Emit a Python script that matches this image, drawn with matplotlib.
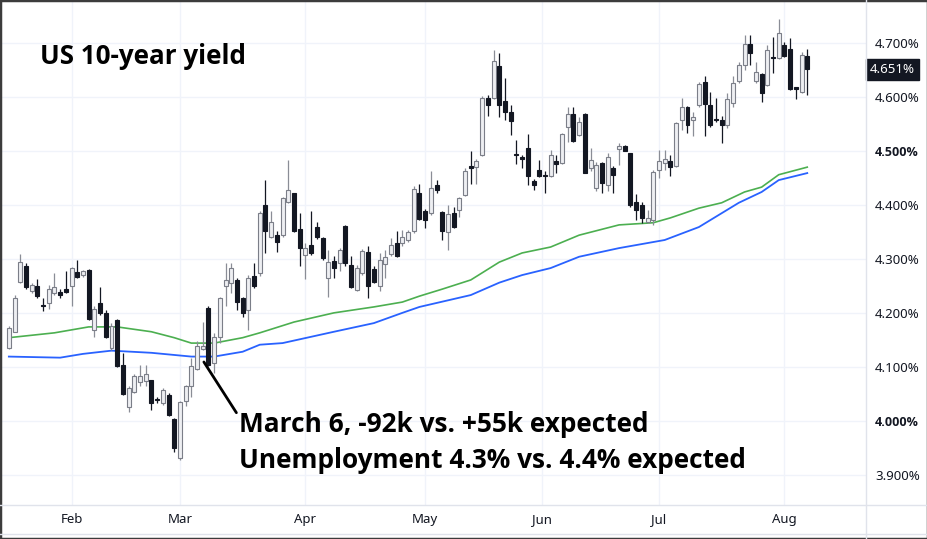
import matplotlib
matplotlib.use("Agg")
import matplotlib.pyplot as plt
from matplotlib.lines import Line2D
from matplotlib.patches import Rectangle

# daily candles, US 10-year yield (%), late Jan -> early Aug
opens = [4.135, 4.165, 4.258, 4.287, 4.241, 4.249, 4.214, 4.219, 4.236, 4.239,
         4.244, 4.249, 4.275, 4.270, 4.280, 4.168, 4.219, 4.199, 4.135, 4.187,
         4.104, 4.026, 4.054, 4.071, 4.073, 4.075, 4.040, 4.033, 4.047, 4.003,
         3.931, 4.036, 4.064, 4.096, 4.133, 4.209, 4.107, 4.156, 4.249, 4.255,
         4.261, 4.227, 4.206, 4.268, 4.274, 4.400, 4.340, 4.344, 4.344, 4.406,
         4.422, 4.356, 4.307, 4.326, 4.360, 4.338, 4.265, 4.296, 4.292, 4.361,
         4.289, 4.243, 4.274, 4.312, 4.282, 4.250, 4.291, 4.310, 4.329, 4.330,
         4.335, 4.351, 4.422, 4.388, 4.385, 4.437, 4.386, 4.349, 4.385, 4.390,
         4.419, 4.473, 4.471, 4.493, 4.599, 4.598, 4.657, 4.593, 4.573, 4.493,
         4.487, 4.506, 4.445, 4.465, 4.454, 4.454, 4.482, 4.478, 4.544, 4.568,
         4.530, 4.568, 4.468, 4.431, 4.477, 4.437, 4.468, 4.503, 4.509, 4.496,
         4.406, 4.400, 4.369, 4.372, 4.465, 4.477, 4.482, 4.472, 4.557, 4.581,
         4.557, 4.585, 4.627, 4.585, 4.558, 4.557, 4.548, 4.588, 4.630, 4.659,
         4.699, 4.630, 4.643, 4.622, 4.673, 4.673, 4.696, 4.688, 4.618, 4.610,
         4.676]
highs = [4.175, 4.233, 4.310, 4.292, 4.255, 4.262, 4.227, 4.252, 4.273, 4.244,
         4.278, 4.285, 4.298, 4.280, 4.281, 4.212, 4.248, 4.206, 4.181, 4.188,
         4.125, 4.064, 4.087, 4.104, 4.104, 4.076, 4.045, 4.060, 4.051, 4.005,
         4.036, 4.067, 4.116, 4.147, 4.184, 4.212, 4.162, 4.230, 4.292, 4.292,
         4.264, 4.230, 4.270, 4.292, 4.388, 4.446, 4.388, 4.351, 4.415, 4.483,
         4.423, 4.385, 4.329, 4.388, 4.369, 4.340, 4.317, 4.306, 4.320, 4.363,
         4.306, 4.289, 4.318, 4.323, 4.286, 4.311, 4.317, 4.338, 4.351, 4.354,
         4.354, 4.435, 4.438, 4.392, 4.462, 4.446, 4.388, 4.400, 4.397, 4.415,
         4.468, 4.499, 4.486, 4.602, 4.604, 4.687, 4.682, 4.635, 4.585, 4.520,
         4.493, 4.532, 4.448, 4.483, 4.462, 4.502, 4.493, 4.534, 4.582, 4.582,
         4.562, 4.570, 4.505, 4.480, 4.480, 4.496, 4.472, 4.514, 4.511, 4.497,
         4.420, 4.406, 4.391, 4.465, 4.502, 4.502, 4.493, 4.554, 4.598, 4.583,
         4.573, 4.628, 4.638, 4.610, 4.598, 4.565, 4.607, 4.638, 4.665, 4.715,
         4.715, 4.664, 4.645, 4.696, 4.712, 4.744, 4.701, 4.709, 4.619, 4.684,
         4.688]
lows = [4.133, 4.164, 4.255, 4.244, 4.236, 4.227, 4.203, 4.207, 4.233, 4.227,
        4.236, 4.212, 4.264, 4.267, 4.186, 4.156, 4.196, 4.153, 4.132, 4.099,
        4.048, 4.017, 4.051, 4.064, 4.064, 4.020, 4.033, 4.030, 4.008, 3.943,
        3.928, 4.027, 4.045, 4.094, 4.131, 4.101, 4.088, 4.144, 4.212, 4.236,
        4.206, 4.193, 4.168, 4.246, 4.269, 4.311, 4.338, 4.312, 4.341, 4.404,
        4.349, 4.286, 4.262, 4.307, 4.336, 4.298, 4.230, 4.264, 4.277, 4.286,
        4.246, 4.240, 4.270, 4.227, 4.256, 4.240, 4.264, 4.306, 4.304, 4.323,
        4.332, 4.348, 4.372, 4.357, 4.382, 4.422, 4.335, 4.317, 4.357, 4.378,
        4.417, 4.439, 4.439, 4.491, 4.565, 4.596, 4.562, 4.557, 4.530, 4.476,
        4.468, 4.437, 4.428, 4.451, 4.423, 4.451, 4.459, 4.476, 4.517, 4.517,
        4.527, 4.459, 4.462, 4.425, 4.422, 4.425, 4.422, 4.474, 4.499, 4.397,
        4.372, 4.367, 4.366, 4.363, 4.449, 4.465, 4.454, 4.471, 4.539, 4.533,
        4.527, 4.582, 4.527, 4.545, 4.554, 4.514, 4.542, 4.582, 4.625, 4.650,
        4.659, 4.625, 4.590, 4.620, 4.644, 4.670, 4.675, 4.613, 4.596, 4.607,
        4.604]
closes = [4.172, 4.227, 4.295, 4.248, 4.252, 4.231, 4.212, 4.244, 4.248, 4.233,
          4.238, 4.283, 4.267, 4.277, 4.188, 4.207, 4.199, 4.156, 4.175, 4.101,
          4.050, 4.060, 4.083, 4.083, 4.086, 4.033, 4.038, 4.057, 4.010, 3.949,
          4.035, 4.065, 4.101, 4.139, 4.138, 4.104, 4.156, 4.227, 4.261, 4.283,
          4.221, 4.199, 4.264, 4.250, 4.385, 4.351, 4.369, 4.332, 4.412, 4.428,
          4.351, 4.320, 4.321, 4.311, 4.340, 4.301, 4.295, 4.284, 4.317, 4.293,
          4.248, 4.283, 4.315, 4.249, 4.258, 4.298, 4.304, 4.325, 4.306, 4.340,
          4.349, 4.430, 4.374, 4.372, 4.431, 4.427, 4.352, 4.383, 4.360, 4.412,
          4.463, 4.468, 4.482, 4.598, 4.585, 4.667, 4.585, 4.573, 4.556, 4.492,
          4.486, 4.454, 4.437, 4.454, 4.453, 4.493, 4.475, 4.532, 4.569, 4.519,
          4.553, 4.460, 4.483, 4.474, 4.440, 4.488, 4.456, 4.509, 4.500, 4.399,
          4.390, 4.375, 4.375, 4.461, 4.482, 4.486, 4.471, 4.551, 4.581, 4.549,
          4.562, 4.624, 4.587, 4.549, 4.557, 4.548, 4.596, 4.625, 4.659, 4.699,
          4.682, 4.647, 4.607, 4.687, 4.672, 4.718, 4.676, 4.615, 4.615, 4.677,
          4.651]

# moving averages (bar index, value)
green_idx = [0, 8, 14, 19, 25, 29, 32, 36, 41, 44, 50, 57, 64, 69, 72, 76, 81,
             86, 90, 95, 100, 107, 113, 116, 121, 125, 129, 132, 135, 140]
green_val = [4.154, 4.163, 4.174, 4.174, 4.165, 4.154, 4.144, 4.144, 4.154,
             4.163, 4.183, 4.200, 4.211, 4.220, 4.231, 4.244, 4.261, 4.294,
             4.311, 4.322, 4.344, 4.363, 4.367, 4.376, 4.394, 4.404, 4.424,
             4.433, 4.456, 4.470]
blue_idx = [0, 9, 13, 18, 25, 32, 36, 41, 44, 48, 57, 64, 69, 72, 81, 86, 90,
            95, 100, 107, 115, 121, 128, 132, 135, 140]
blue_val = [4.119, 4.117, 4.124, 4.130, 4.126, 4.119, 4.119, 4.128, 4.141,
            4.144, 4.165, 4.181, 4.200, 4.211, 4.233, 4.256, 4.270, 4.283,
            4.304, 4.320, 4.335, 4.359, 4.404, 4.424, 4.446, 4.459]

month_labels = ["Feb", "Mar", "Apr", "May", "Jun", "Jul", "Aug"]
month_bars = [11, 30, 52, 73, 93.5, 114, 136]
y_ticks = [3.9, 4.0, 4.1, 4.2, 4.3, 4.4, 4.5, 4.6, 4.7]

event_bar = 34  # March 6 payrolls candle

DARK = "#131722"
GRID = "#f0f3fa"
FONT = "Noto Sans"
BOLD = "Open Sans"


def draw_candles(ax):
  for i in range(len(closes)):
    o, h, l, c = opens[i], highs[i], lows[i], closes[i]
    up = c >= o
    wick = "#8a8d96" if up else DARK
    ax.vlines(i, l, h, color=wick, lw=0.9, zorder=2)
    bottom = min(o, c)
    height = max(abs(c - o), 0.002)
    if up:
      ax.bar(i, height, bottom=bottom, width=0.7, facecolor="#eeeff2",
             edgecolor="#7b7e88", lw=0.8, zorder=3)
    else:
      ax.bar(i, height, bottom=bottom, width=0.7, facecolor=DARK,
             edgecolor=DARK, lw=0.8, zorder=3)


def main():
  plt.rcParams["font.family"] = [FONT, "DejaVu Sans"]
  fig = plt.figure(figsize=(9.28, 5.39), dpi=100)
  ax = fig.add_axes([2 / 928, 1 - 505 / 539, 864 / 928, 503 / 539])

  ax.plot(green_idx, green_val, color="#4caf50", lw=1.2, zorder=1)
  ax.plot(blue_idx, blue_val, color="#2962ff", lw=1.3, zorder=1)
  draw_candles(ax)

  ax.set_xlim(-1.2, 150.3)
  ax.set_ylim(3.844, 4.776)

  for s in ax.spines.values():
    s.set_visible(False)
  ax.yaxis.tick_right()
  ax.set_yticks(y_ticks)
  ax.set_yticklabels(["%.3f%%" % v for v in y_ticks])
  ax.tick_params(axis="y", length=0, pad=6.5, labelsize=9.5, labelcolor=DARK)
  for lab, v in zip(ax.get_yticklabels(), y_ticks):
    if abs(v - 4.5) < 1e-6 or abs(v - 4.0) < 1e-6:
      lab.set_family(BOLD)
      lab.set_fontweight("bold")
      lab.set_fontsize(9)
  ax.set_xticks(month_bars)
  ax.set_xticklabels(month_labels)
  ax.tick_params(axis="x", length=0, pad=6, labelsize=9.5, labelcolor=DARK)
  ax.grid(True, color=GRID, lw=1)
  ax.set_axisbelow(True)

  # last price marker
  ax.text(1.0045, closes[-1], "%.3f%%" % closes[-1], transform=ax.get_yaxis_transform(),
          ha="left", va="center", color="white", fontsize=9.5,
          bbox=dict(boxstyle="square,pad=0.3", facecolor=DARK, edgecolor=DARK))

  # annotation for the payrolls day
  ax.annotate("", xy=(event_bar + 0.2, 4.109), xytext=(39.9, 4.015),
              arrowprops=dict(arrowstyle="-", color="black", lw=2,
                              shrinkA=0, shrinkB=0))
  ax.text(40.3, 3.980, "March 6, -92k vs. +55k expected", fontsize=18.9,
          family=BOLD, fontweight="bold", color="black", va="baseline")
  ax.text(40.3, 3.913, "Unemployment 4.3% vs. 4.4% expected", fontsize=18.9,
          family=BOLD, fontweight="bold", color="black", va="baseline")

  fig.text(40 / 928, 1 - 64 / 539, "US 10-year yield", fontsize=18.7,
           family=BOLD, fontweight="bold", color="black", va="baseline")

  # panel separators and outer frame
  sep = "#e0e3eb"
  fig.add_artist(Line2D([866 / 928, 866 / 928], [0, 1], color=sep, lw=1))
  fig.add_artist(Line2D([0, 1], [1 - 505 / 539] * 2, color=sep, lw=1))
  fig.add_artist(Line2D([0, 1], [1 - 534 / 539] * 2, color=sep, lw=1))
  fig.patches.append(Rectangle((0, 0), 1, 1, transform=fig.transFigure,
                               fill=False, edgecolor="#3c3c3c", lw=2.5))

  fig.savefig("out.png", dpi=100, facecolor="white")


if __name__ == "__main__":
  main()
